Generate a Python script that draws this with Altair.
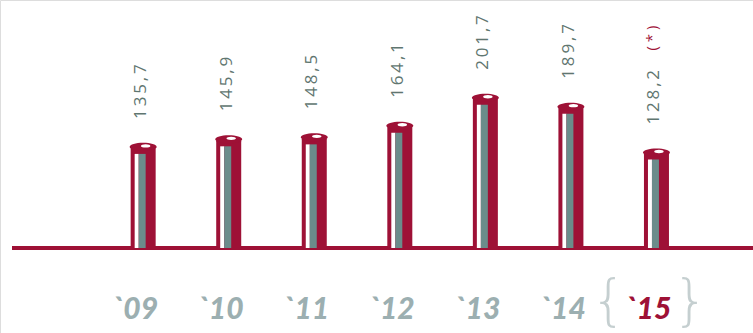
import altair as alt
import pandas as pd

years = ["`09", "`10", "`11", "`12", "`13", "`14", "`15"]
values = [135.7, 145.9, 148.5, 164.1, 201.7, 189.7, 128.2]
labels = ["135,7", "145,9", "148,5", "164,1", "201,7", "189,7", "128,2"]
note = ["", "", "", "", "", "", "( * )"]
highlight = [False, False, False, False, False, False, True]

TS = "\u2009"
df = pd.DataFrame({
    "i": list(range(len(years))),
    "year": years,
    "value": values,
    "label": [TS.join(list(s)) for s in labels],
    "note": note,
    "hl": highlight,
})

CRIMSON = "#9e1136"
STRIPE = "#6b8c8b"
LABEL = "#5f7670"
YEAR = "#9cafb1"
BRACE = "#c5cfd0"

xs = alt.Scale(domain=[-1.615, 7.07], nice=False, zero=False)
ys = alt.Scale(domain=[-114.1, 332.9], nice=False, zero=False)
X = alt.X("i:Q", scale=xs, axis=None)
Y = alt.Y("value:Q", scale=ys, axis=None)

base = alt.Chart(df)

baseline = base.mark_rule(color=CRIMSON, strokeWidth=3.5).encode(
    x=alt.value(12), x2=alt.value(753), y=alt.Y("zero:Q", scale=ys, axis=None)
).transform_calculate(zero="0")

outer = base.mark_bar(size=25, color=CRIMSON, cornerRadiusTopLeft=2, cornerRadiusTopRight=2).encode(
    x=X, y=Y, y2=alt.datum(0)
)
white = base.mark_bar(size=4, color="white", xOffset=-6.5, yOffset=7).encode(
    x=X, y=Y, y2=alt.datum(0)
)
stripe = base.mark_bar(size=7, color=STRIPE, xOffset=-1, yOffset=7).encode(
    x=X, y=Y, y2=alt.datum(0)
)
ell = "M -1 0 A 1 0.3 0 1 0 1 0 A 1 0.3 0 1 0 -1 0 Z"
ell2 = "M -1 0 A 1 0.35 0 1 0 1 0 A 1 0.35 0 1 0 -1 0 Z"
cap = base.mark_point(shape=ell, size=729, filled=True, color=CRIMSON, opacity=1, strokeWidth=0).encode(
    x=X, y=Y
)
capw = base.mark_point(shape=ell2, size=90, filled=True, color="white", opacity=1, strokeWidth=0,
                       xOffset=2.5, yOffset=-1).encode(x=X, y=Y)

vlabels = base.mark_text(angle=270, align="left", baseline="middle", dx=28, dy=-2,
                         font="Open Sans", fontSize=17, color=LABEL).encode(
    x=X, y=Y, text="label:N"
)
notes = base.mark_text(angle=270, align="left", baseline="middle", dx=102, dy=-4,
                       font="Open Sans", fontSize=15, color=CRIMSON).encode(
    x=X, y=Y, text="note:N"
)

ylabels = base.mark_text(align="center", baseline="alphabetic", dx=-8,
                         font="Lato", fontSize=30, fontWeight=900, fontStyle="italic").encode(
    x=X, y=alt.value(319), text="year:N",
    color=alt.condition("datum.hl", alt.value(CRIMSON), alt.value(YEAR)),
)
lbrace = base.transform_filter("datum.hl").mark_text(
    align="center", baseline="middle", dx=-48, font="DejaVu Sans", fontSize=56,
    fontWeight=200, color=BRACE).encode(x=X, y=alt.value(302), text=alt.value("{"))
rbrace = base.transform_filter("datum.hl").mark_text(
    align="center", baseline="middle", dx=34, font="DejaVu Sans", fontSize=56,
    fontWeight=200, color=BRACE).encode(x=X, y=alt.value(302), text=alt.value("}"))

chart = alt.layer(
    baseline, outer, cap, white, stripe, capw, vlabels, notes, ylabels, lbrace, rbrace
).properties(
    width=753, height=333, padding=0, autosize=alt.AutoSizeParams(type="none")
).configure_view(stroke=None).configure(background="white")

chart.save("out.html", embed_options={"renderer": "svg", "actions": False})
